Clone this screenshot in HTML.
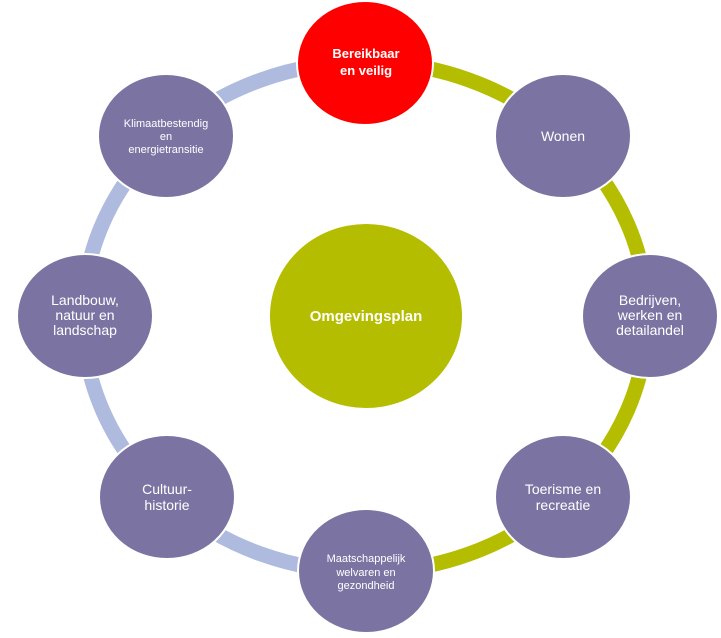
<!DOCTYPE html>
<html><head><meta charset="utf-8"><style>
html,body{margin:0;padding:0;background:#fff;width:721px;height:638px;overflow:hidden}
svg text{font-family:"Liberation Sans",sans-serif;fill:#fff;text-anchor:middle}
</style></head><body>
<svg width="721" height="638" viewBox="0 0 721 638" xmlns="http://www.w3.org/2000/svg">
<defs><clipPath id="r"><rect x="365" y="0" width="400" height="638"/></clipPath>
<clipPath id="l"><rect x="0" y="0" width="365" height="638"/></clipPath></defs>
<ellipse cx="365" cy="317" rx="282" ry="255" fill="none" stroke="#aebbdf" stroke-width="15" clip-path="url(#l)"/>
<ellipse cx="365" cy="317" rx="282" ry="255" fill="none" stroke="#b5bd00" stroke-width="15" clip-path="url(#r)"/>
<ellipse cx="366" cy="316" rx="96" ry="92" fill="#b5bd00"/>
<text x="366" y="321" font-size="15" font-weight="bold">Omgevingsplan</text>
<g stroke="#fff" stroke-width="2">
<ellipse cx="365" cy="63" rx="68" ry="62" fill="#ff0000"/>
<ellipse cx="563" cy="136" rx="68" ry="62" fill="#7b74a3"/>
<ellipse cx="650" cy="316" rx="68" ry="62" fill="#7b74a3"/>
<ellipse cx="563" cy="497" rx="68" ry="62" fill="#7b74a3"/>
<ellipse cx="366" cy="571" rx="68" ry="62" fill="#7b74a3"/>
<ellipse cx="167" cy="497" rx="68" ry="62" fill="#7b74a3"/>
<ellipse cx="85" cy="316" rx="68" ry="62" fill="#7b74a3"/>
<ellipse cx="166" cy="136" rx="68" ry="62" fill="#7b74a3"/>
</g>
<text font-size="13" font-weight="bold"><tspan x="366" y="58">Bereikbaar</tspan><tspan x="366" y="75">en veilig</tspan></text>
<text x="563" y="141" font-size="14">Wonen</text>
<text font-size="14"><tspan x="650" y="305">Bedrijven,</tspan><tspan x="650" y="320">werken en</tspan><tspan x="650" y="335">detailandel</tspan></text>
<text font-size="14"><tspan x="563" y="494">Toerisme en</tspan><tspan x="563" y="510">recreatie</tspan></text>
<text font-size="11"><tspan x="366" y="562">Maatschappelijk</tspan><tspan x="366" y="576">welvaren en</tspan><tspan x="366" y="589">gezondheid</tspan></text>
<text font-size="14"><tspan x="167" y="494">Cultuur-</tspan><tspan x="167" y="510">historie</tspan></text>
<text font-size="14"><tspan x="85" y="305">Landbouw,</tspan><tspan x="85" y="320">natuur en</tspan><tspan x="85" y="335">landschap</tspan></text>
<text font-size="11"><tspan x="166" y="127">Klimaatbestendig</tspan><tspan x="166" y="140">en</tspan><tspan x="166" y="153">energietransitie</tspan></text>
</svg>
</body></html>
